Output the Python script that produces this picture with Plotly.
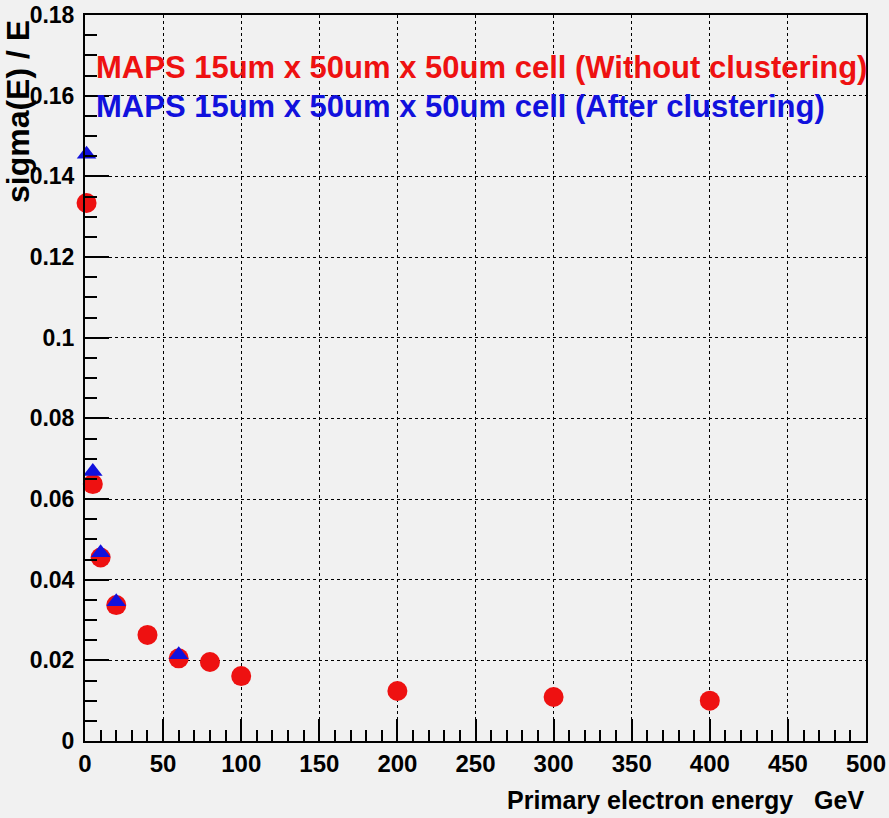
import plotly.graph_objects as go

# energies in GeV
energy_red = [1, 5, 10, 20, 40, 60, 80, 100, 200, 300, 400]
sigma_red = [0.1334, 0.0637, 0.0455, 0.0337, 0.0263, 0.0205, 0.0196, 0.0161, 0.0124, 0.0109, 0.0100]

energy_blue = [1, 5, 10, 20, 60]
sigma_blue = [0.1455, 0.0668, 0.0467, 0.0345, 0.0214]

label_red = "MAPS 15um x 50um x 50um cell (Without clustering)"
label_blue = "MAPS 15um x 50um x 50um cell (After clustering)"

x_ticks = [0, 50, 100, 150, 200, 250, 300, 350, 400, 450, 500]
y_ticks = [0, 0.02, 0.04, 0.06, 0.08, 0.1, 0.12, 0.14, 0.16, 0.18]
y_ticktext = ["0", "0.02", "0.04", "0.06", "0.08", "0.1", "0.12", "0.14", "0.16", "0.18"]

bg = "#f1f1f1"
fnt = "Liberation Sans, Arial, sans-serif"

fig = go.Figure()
fig.add_trace(go.Scatter(x=energy_red, y=sigma_red, mode="markers", cliponaxis=False,
                         marker=dict(symbol="circle", size=20, color="#ee1111"),
                         name=label_red))
fig.add_trace(go.Scatter(x=energy_blue, y=sigma_blue, mode="markers", cliponaxis=False,
                         marker=dict(symbol="triangle-up", size=17, color="#1111dd"),
                         name=label_blue))

fig.update_xaxes(range=[0, 500], tickvals=x_ticks, ticks="inside", ticklen=22, tickwidth=2,
                 tickcolor="black", showline=True, linecolor="black", linewidth=2, mirror=True,
                 showgrid=True, gridcolor="black", griddash="dot", gridwidth=1, zeroline=False,
                 automargin=False,
                 tickfont=dict(family=fnt, size=24, color="black", weight="bold"),
                 minor=dict(dtick=10, ticks="inside", ticklen=11, tickwidth=2, tickcolor="black",
                            showgrid=False))
fig.update_yaxes(range=[0, 0.18], tickvals=y_ticks, ticktext=y_ticktext, ticks="inside",
                 ticklen=24, tickwidth=2, tickcolor="black", showline=True, linecolor="black",
                 linewidth=2, mirror=True, showgrid=True, gridcolor="black", griddash="dot",
                 gridwidth=1, zeroline=False, ticklabelstandoff=4, automargin=False,
                 tickfont=dict(family=fnt, size=23, color="black", weight="bold"),
                 minor=dict(dtick=0.005, ticks="inside", ticklen=12, tickwidth=2,
                            tickcolor="black", showgrid=False))

fig.add_annotation(x=0.012, y=0.927, xref="paper", yref="paper", xanchor="left",
                   yanchor="middle", text=label_red, showarrow=False,
                   font=dict(family=fnt, size=31, color="#ee1111", weight="bold"))
fig.add_annotation(x=0.012, y=0.874, xref="paper", yref="paper", xanchor="left",
                   yanchor="middle", text=label_blue, showarrow=False,
                   font=dict(family=fnt, size=31, color="#1111dd", weight="bold"))
fig.add_annotation(x=-0.085, y=0.996, xref="paper", yref="paper", xanchor="center",
                   yanchor="top", text="sigma(E) / E", textangle=-90, showarrow=False,
                   font=dict(family=fnt, size=32, color="black", weight="bold"))
fig.add_annotation(x=1.0, y=-0.081, xref="paper", yref="paper", xanchor="right",
                   yanchor="middle", text="Primary electron energy\u00a0\u00a0\u00a0GeV",
                   showarrow=False,
                   font=dict(family=fnt, size=25, color="black", weight="bold"))

fig.update_layout(width=889, height=818, showlegend=False,
                  paper_bgcolor=bg, plot_bgcolor=bg,
                  margin=dict(l=85, r=23, t=15, b=77))

fig.write_html("out.html", config={"displayModeBar": False},
               post_script="document.body.style.margin='0';"
                           "document.body.style.overflow='hidden';")
